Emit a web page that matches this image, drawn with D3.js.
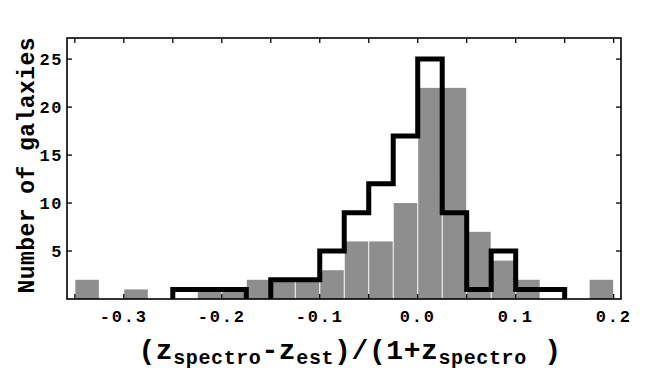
<!DOCTYPE html>
<html>
<head>
<meta charset="utf-8">
<script src="https://cdn.jsdelivr.net/npm/d3@7"></script>
<style>
  body { margin: 0; background: #fff; }
  text { font-family: "Liberation Mono", "DejaVu Sans Mono", monospace; font-weight: bold; }
</style>
</head>
<body>
<div id="chart"></div>
<script>
// bin left edges, width 0.025
var binStart = -0.35, binWidth = 0.025;
var grayCounts  = [2,0,1,0,0,1,1,2,2,2,3,6,6,10,22,22,7,4,2,0,0,2];
var blackCounts = [0,0,0,0,1,1,1,0,2,2,5,9,12,17,25,9,1,5,1,1,0,0];
var xTickLabels = [-0.3,-0.2,-0.1,0.0,0.1,0.2];
var yTickLabels = [5,10,15,20,25];

var width = 666, height = 371;
var m = {top:38, right:45, bottom:72, left:67};
var w = width - m.left - m.right, h = height - m.top - m.bottom;

var svg = d3.select("#chart").append("svg")
    .attr("width", width).attr("height", height);

var x = d3.scaleLinear().domain([-0.358, 0.2075]).range([0, w]);
var y = d3.scaleLinear().domain([0, 27.2]).range([h, 0]);

var g = svg.append("g").attr("transform","translate("+m.left+","+m.top+")");

g.append("clipPath").attr("id","clip")
  .append("rect").attr("width", w).attr("height", h);

var plot = g.append("g").attr("clip-path","url(#clip)");

// gray histogram
var grayBins = grayCounts.map(function(c,i){ return {x0: binStart + i*binWidth, n: c}; });
plot.selectAll("rect.bar").data(grayBins.filter(function(d){return d.n>0;}))
  .enter().append("rect").attr("class","bar")
    .attr("x", function(d){ return x(d.x0) + 0.5; })
    .attr("width", function(d){ return x(d.x0+binWidth) - x(d.x0) - 1; })
    .attr("y", function(d){ return y(d.n); })
    .attr("height", function(d){ return y(0) - y(d.n); })
    .style("fill","#8e8e8e");

// black step outline
var pts = [];
blackCounts.forEach(function(c,i){
  var x0 = binStart + i*binWidth;
  var yy = c > 0 ? y(c) : y(0) + 4;
  pts.push([x(x0), yy]); pts.push([x(x0+binWidth), yy]);
});
plot.append("path")
  .attr("d", d3.line()(pts))
  .style("fill","none").style("stroke","#000")
  .style("stroke-width",5).style("stroke-linejoin","miter");

// frame
g.append("rect").attr("width", w).attr("height", h)
  .style("fill","none").style("stroke","#000").style("stroke-width",1.6);

// ticks (inward on all sides)
var xt = d3.range(-0.35, 0.2001, 0.05);
var tl = 5;
g.selectAll("line.xb").data(xt).enter().append("line")
  .attr("x1", function(d){return x(d);}).attr("x2", function(d){return x(d);})
  .attr("y1", h).attr("y2", h-tl).style("stroke","#000").style("stroke-width",1.3);
g.selectAll("line.xt").data(xt).enter().append("line")
  .attr("x1", function(d){return x(d);}).attr("x2", function(d){return x(d);})
  .attr("y1", 0).attr("y2", tl).style("stroke","#000").style("stroke-width",1.3);
g.selectAll("line.yl").data(yTickLabels).enter().append("line")
  .attr("y1", function(d){return y(d);}).attr("y2", function(d){return y(d);})
  .attr("x1", 0).attr("x2", tl).style("stroke","#000").style("stroke-width",1.3);
g.selectAll("line.yr").data(yTickLabels).enter().append("line")
  .attr("y1", function(d){return y(d);}).attr("y2", function(d){return y(d);})
  .attr("x1", w).attr("x2", w-tl).style("stroke","#000").style("stroke-width",1.3);

// tick labels
g.selectAll("text.xl").data(xTickLabels).enter().append("text")
  .attr("x", function(d){return x(d);}).attr("y", h+23)
  .attr("text-anchor","middle")
  .style("font-size","17px").style("letter-spacing","1.8px")
  .text(function(d){ return (d<0?"-":"") + Math.abs(d).toFixed(1); });
g.selectAll("text.yl").data(yTickLabels).enter().append("text")
  .attr("x", -4).attr("y", function(d){return y(d)+6;})
  .attr("text-anchor","end")
  .style("font-size","17px").style("letter-spacing","1.5px")
  .text(function(d){ return d; });

// axis titles
svg.append("text")
  .attr("transform","translate(34,"+(m.top+h/2-3)+") rotate(-90)")
  .attr("text-anchor","middle")
  .style("font-size","23px")
  .attr("textLength",256).attr("lengthAdjust","spacing")
  .text("Number of galaxies");

var xl = svg.append("text")
  .attr("x", 350).attr("y", 359)
  .attr("text-anchor","middle")
  .style("letter-spacing","0.6px");
var parts = [["(z",0],["spectro",1],["-z",0],["est",1],[")/(1+z",0],["spectro",1],[" )",0]];
var prevSub = 0;
parts.forEach(function(p){
  var dy = p[1] && !prevSub ? 5 : (!p[1] && prevSub ? -5 : 0);
  xl.append("tspan")
    .attr("dy", dy)
    .style("font-size", p[1] ? "20px" : "28px")
    .text(p[0]);
  prevSub = p[1];
});
</script>
</body>
</html>
